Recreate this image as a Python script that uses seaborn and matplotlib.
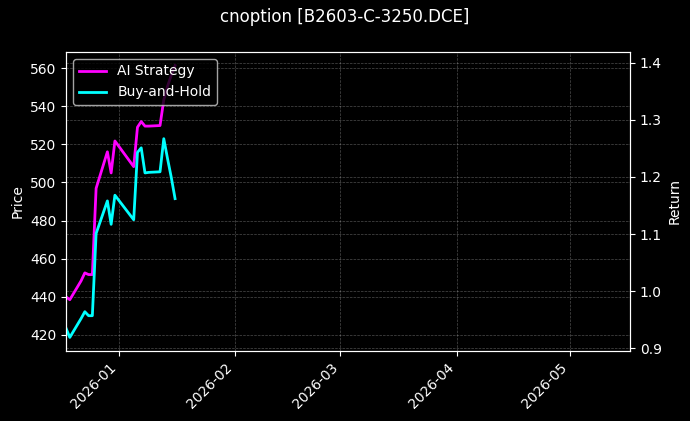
import matplotlib
matplotlib.use("Agg")
import matplotlib.pyplot as plt
import matplotlib.dates as mdates
import pandas as pd
import seaborn as sns

# ---------------------------------------------------
# Data
# ---------------------------------------------------

dates = [
    "2025-12-18", "2025-12-19", "2025-12-22", "2025-12-23", "2025-12-24",
    "2025-12-25", "2025-12-26", "2025-12-29", "2025-12-30", "2025-12-31",
    "2026-01-05", "2026-01-06", "2026-01-07", "2026-01-08", "2026-01-09",
    "2026-01-12", "2026-01-13", "2026-01-14", "2026-01-15", "2026-01-16",
]

ai_strategy = [
    0.990, 0.985, 1.018, 1.032, 1.029,
    1.029, 1.180, 1.244, 1.207, 1.263,
    1.218, 1.287, 1.297, 1.289, 1.289,
    1.290, 1.335, 1.359, 1.378, 1.395,
]

buy_and_hold = [
    0.935, 0.919, 0.952, 0.964, 0.957,
    0.957, 1.101, 1.158, 1.117, 1.168,
    1.125, 1.243, 1.251, 1.207, 1.208,
    1.209, 1.267, 1.232, 1.199, 1.162,
]

series_names = ["AI Strategy", "Buy-and-Hold"]
series_colors = ["#ff00ff", "#00ffff"]

price_limits = (411.6, 568.4)
date_limits = ("2025-12-18", "2026-05-17")

df = pd.DataFrame({
    "date": pd.to_datetime(dates * 2),
    "value": ai_strategy + buy_and_hold,
    "series": [series_names[0]] * len(dates) + [series_names[1]] * len(dates),
})


# ---------------------------------------------------
# Plot
# ---------------------------------------------------

plt.style.use("dark_background")

fig = plt.figure(figsize=(6.9, 4.21), dpi=100)
fig.subplots_adjust(left=0.0957, right=0.913, top=0.8765, bottom=0.1663)

ax1 = fig.add_subplot(111)
ax2 = ax1.twinx()

sns.lineplot(
    data=df,
    x="date",
    y="value",
    hue="series",
    palette=dict(zip(series_names, series_colors)),
    linewidth=2,
    ax=ax2,
)

ax1.set_ylim(*price_limits)
ax1.set_xlim(pd.to_datetime(date_limits[0]), pd.to_datetime(date_limits[1]))

ax1.set_ylabel("Price")
ax2.set_ylabel("Return")
ax1.set_xlabel("")
ax2.set_xlabel("")

ax1.grid(True, linestyle="--", linewidth=0.5, alpha=0.3)
ax2.grid(True, linestyle="--", linewidth=0.5, alpha=0.3)

ax1.xaxis.set_major_locator(mdates.MonthLocator())
ax1.xaxis.set_major_formatter(mdates.DateFormatter("%Y-%m"))
plt.setp(ax1.get_xticklabels(), rotation=45, ha="right")
plt.setp(ax2.get_xticklabels(), visible=False)

ax2.legend(loc="upper left", framealpha=0.8)

fig.suptitle("cnoption [B2603-C-3250.DCE]", fontsize=12)

plt.savefig("out.png", dpi=100)

plt.close()
